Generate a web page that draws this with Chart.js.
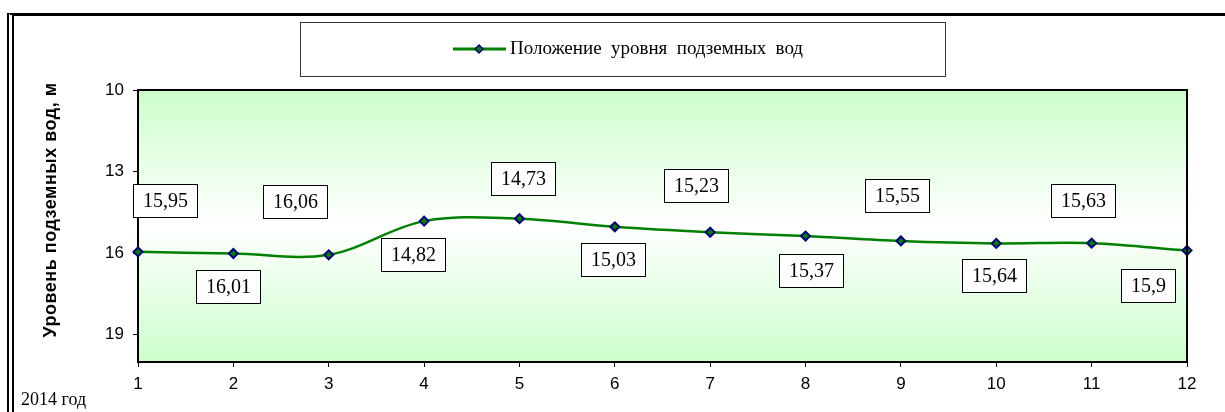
<!DOCTYPE html>
<html>
<head>
<meta charset="utf-8">
<script src="https://cdn.jsdelivr.net/npm/chart.js@4/dist/chart.umd.min.js"></script>
<style>
  html, body { margin: 0; padding: 0; background: #fff; }
  #wrap { position: relative; width: 1225px; height: 412px; overflow: hidden; }
  #frame { position: absolute; left: 7px; top: 13px; width: 1300px; height: 500px;
           border-top: 3px solid #000; border-left: 7px double #000; }
  canvas { position: absolute; left: 0; top: 0; }
</style>
</head>
<body>
<div id="wrap">
  <div id="frame"></div>
  <canvas id="levelChart" width="1225" height="412"></canvas>
</div>
<script>
// data
const months = ['1', '2', '3', '4', '5', '6', '7', '8', '9', '10', '11', '12'];
const waterLevel = [15.95, 16.01, 16.06, 14.82, 14.73, 15.03, 15.23, 15.37, 15.55, 15.64, 15.63, 15.9];
const yTicks = [10, 13, 16, 19];
const seriesName = 'Положение уровня подземных вод';
const yTitle = 'Уровень подземных вод, м';
const yearLabel = '2014 год';

const serif = '"Liberation Serif", "Times New Roman", serif';
const sans = '"Liberation Sans", Arial, sans-serif';

// green - white - green fill behind the plot, plus its frame
const plotBackground = {
  id: 'plotBackground',
  beforeDraw(chart) {
    const { ctx, chartArea: a } = chart;
    const g = ctx.createLinearGradient(0, a.top, 0, a.bottom);
    g.addColorStop(0, '#ccffcc');
    g.addColorStop(0.5, '#ffffff');
    g.addColorStop(1, '#ccffcc');
    ctx.save();
    ctx.fillStyle = g;
    ctx.fillRect(a.left, a.top, a.right - a.left, a.bottom - a.top);
    ctx.restore();
  },
  afterDatasetsDraw(chart) {
    const { ctx, chartArea: a } = chart;
    ctx.save();
    ctx.strokeStyle = '#000';
    ctx.lineWidth = 2;
    ctx.beginPath();
    ctx.moveTo(a.left, a.top);
    ctx.lineTo(a.right, a.top);
    ctx.lineTo(a.right, a.bottom);
    ctx.stroke();
    ctx.restore();
  }
};

// legend box, axis title, year caption
const decorations = {
  id: 'decorations',
  afterDraw(chart) {
    const ctx = chart.ctx;
    ctx.save();
    // legend
    ctx.fillStyle = '#fff';
    ctx.fillRect(300.5, 22.5, 645, 54);
    ctx.strokeStyle = '#333';
    ctx.lineWidth = 1;
    ctx.strokeRect(300.5, 22.5, 645, 54);
    ctx.strokeStyle = '#008000';
    ctx.lineWidth = 3;
    ctx.beginPath();
    ctx.moveTo(453, 49);
    ctx.lineTo(506, 49);
    ctx.stroke();
    ctx.fillStyle = '#008000';
    ctx.strokeStyle = '#000080';
    ctx.lineWidth = 1.5;
    ctx.beginPath();
    ctx.moveTo(479, 45); ctx.lineTo(483, 49); ctx.lineTo(479, 53); ctx.lineTo(475, 49);
    ctx.closePath();
    ctx.fill(); ctx.stroke();
    ctx.fillStyle = '#000';
    ctx.font = '19px ' + serif;
    ctx.textBaseline = 'middle';
    ctx.textAlign = 'left';
    const plain = ctx.measureText(seriesName).width;
    const gaps = seriesName.split(' ').length - 1;
    ctx.wordSpacing = Math.max(0, (293 - plain) / gaps) + 'px';
    ctx.fillText(seriesName, 510, 49);
    ctx.wordSpacing = '0px';

    // y title
    ctx.save();
    ctx.translate(51, 210);
    ctx.rotate(-Math.PI / 2);
    ctx.font = 'bold 18px ' + sans;
    ctx.letterSpacing = '0.5px';
    ctx.textAlign = 'center';
    ctx.textBaseline = 'middle';
    ctx.fillText(yTitle, 0, 0);
    ctx.restore();

    // year
    ctx.font = '18px ' + serif;
    ctx.textAlign = 'left';
    ctx.textBaseline = 'alphabetic';
    ctx.fillText(yearLabel, 21, 405);
    ctx.restore();
  }
};

// boxed value labels next to each point
const boxedLabels = {
  id: 'boxedLabels',
  afterDatasetsDraw(chart, args, opts) {
    const ctx = chart.ctx;
    const meta = chart.getDatasetMeta(0);
    const values = chart.data.datasets[0].data;
    ctx.save();
    ctx.font = '20px ' + serif;
    ctx.textAlign = 'center';
    ctx.textBaseline = 'middle';
    meta.data.forEach((pt, i) => {
      const text = String(values[i]).replace('.', ',');
      const [dx, dy] = opts.offsets[i];
      const cx = pt.x + dx, cy = pt.y + dy;
      const w = Math.round(ctx.measureText(text).width + 19);
      const h = 33;
      const x0 = Math.round(cx - w / 2) + 0.5, y0 = Math.round(cy - h / 2) + 0.5;
      ctx.fillStyle = '#fff';
      ctx.fillRect(x0, y0, w, h);
      ctx.strokeStyle = '#000';
      ctx.lineWidth = 1;
      ctx.strokeRect(x0, y0, w, h);
      ctx.fillStyle = '#000';
      ctx.fillText(text, x0 + w / 2, y0 + h / 2 + 1);
    });
    ctx.restore();
  }
};

new Chart(document.getElementById('levelChart'), {
  type: 'line',
  data: {
    labels: months,
    datasets: [{
      label: seriesName,
      data: waterLevel,
      borderColor: '#008000',
      borderWidth: 2.5,
      tension: 0.35,
      pointStyle: 'rectRot',
      pointRadius: 4.5,
      pointBackgroundColor: '#008000',
      pointBorderColor: '#000080',
      pointBorderWidth: 2
    }]
  },
  options: {
    responsive: false,
    animation: false,
    layout: { padding: { left: 0, top: 90, right: 38, bottom: 0 } },
    plugins: {
      legend: { display: false },
      tooltip: { enabled: false },
      boxedLabels: {
        offsets: [[27, -51], [-5, 33], [-34, -53], [-11, 33], [4, -40], [-2, 33],
                  [-14, -47], [5, 34], [-4, -45], [-2, 32], [-9, -43], [-39, 35]]
      }
    },
    scales: {
      x: {
        offset: false,
        grid: { display: true, drawOnChartArea: false, drawTicks: true, tickLength: 5, color: '#000' },
        border: { display: true, color: '#000', width: 2 },
        ticks: { color: '#000', padding: 7, font: { family: sans, size: 17 }, maxRotation: 0 },
        afterFit(axis) { axis.height = 50; }
      },
      y: {
        reverse: true,
        min: 10,
        max: 20,
        afterBuildTicks(axis) { axis.ticks = yTicks.map(v => ({ value: v })); },
        grid: { display: true, drawOnChartArea: false, drawTicks: true, tickLength: 5, color: '#000' },
        border: { display: true, color: '#000', width: 2 },
        ticks: { color: '#000', padding: 9, font: { family: sans, size: 17 } },
        afterFit(axis) { axis.width = 138; }
      }
    }
  },
  plugins: [plotBackground, boxedLabels, decorations]
});
</script>
</body>
</html>
